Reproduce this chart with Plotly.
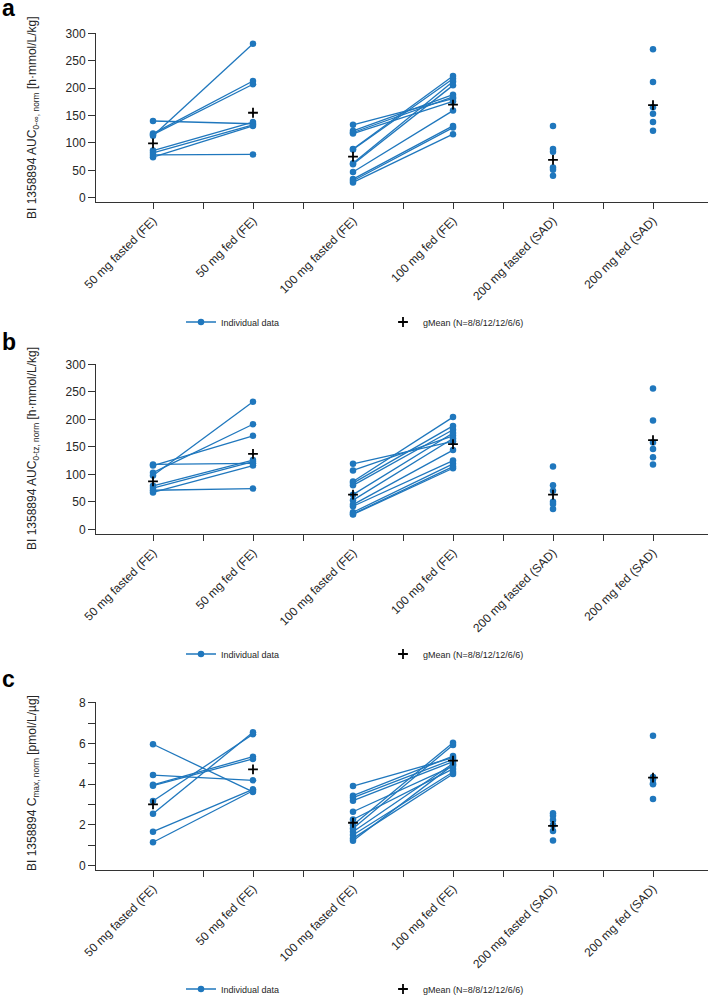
import plotly.graph_objects as go

categories = ["50 mg fasted (FE)", "50 mg fed (FE)", "100 mg fasted (FE)",
              "100 mg fed (FE)", "200 mg fasted (SAD)", "200 mg fed (SAD)"]

# Panel a: AUC0-inf, norm
a_50_fasted = [140, 117, 115, 113, 86, 82, 74, 78]
a_50_fed = [135, 213, 207, 281, 138, 133, 131, 79]
a_100_fasted = [133, 122, 119, 117, 89, 88, 63, 61, 47, 34, 31, 28]
a_100_fed = [181, 188, 184, 176, 222, 217, 212, 205, 159, 131, 128, 116]
a_200_fasted = [131, 89, 84, 55, 51, 40]
a_200_fed = [271, 211, 165, 153, 138, 122]
a_gmean = [99, 155, 75, 170, 69, 169]

# Panel b: AUC0-tz, norm
b_50_fasted = [118, 116, 103, 98, 79, 75, 71, 67]
b_50_fed = [120, 170, 191, 232, 126, 123, 74, 116]
b_100_fasted = [119, 107, 87, 84, 80, 63, 53, 45, 42, 31, 28, 27]
b_100_fed = [160, 170, 204, 188, 181, 175, 165, 144, 125, 119, 114, 111]
b_200_fasted = [114, 80, 70, 50, 46, 37]
b_200_fed = [256, 198, 158, 146, 131, 118]
b_gmean = [87, 137, 63, 155, 63, 162]

# Panel c: Cmax, norm
c_50_fasted = [5.96, 4.45, 3.97, 3.93, 3.18, 2.55, 1.67, 1.15]
c_50_fed = [3.62, 4.19, 5.35, 5.24, 6.45, 6.55, 3.75, 3.68]
c_100_fasted = [3.91, 3.44, 3.34, 3.19, 2.65, 2.27, 2.00, 1.83, 1.67, 1.51, 1.34, 1.23]
c_100_fed = [5.30, 5.38, 5.22, 5.11, 4.89, 4.75, 6.04, 5.92, 5.02, 4.60, 4.50, 4.95]
c_200_fasted = [2.57, 2.45, 2.24, 2.00, 1.70, 1.24]
c_200_fed = [6.38, 4.35, 4.24, 4.04, 4.00, 3.27]
c_gmean = [3.01, 4.73, 2.11, 5.16, 1.96, 4.32]

y_titles = ["BI 1358894 AUC<sub>0-∞, norm</sub> [h·mmol/L/kg]",
            "BI 1358894 AUC<sub>0-tz, norm</sub> [h·mmol/L/kg]",
            "BI 1358894 C<sub>max, norm</sub> [pmol/L/µg]"]
panel_letters = ["a", "b", "c"]
legend_names = ["Individual data", "gMean (N=8/8/12/12/6/6)"]

BLUE = "#1f77bd"
AX = "#333333"
TXT = "#262626"
FONT = "Liberation Sans, Arial, sans-serif"
W, H = 708, 995

pos = {c: i for i, c in enumerate(categories)}


def build_xy(f50, d50, f100, d100, f200, d200):
    xs, ys = [], []
    for (ca, cb, va, vb) in [(categories[0], categories[1], f50, d50),
                             (categories[2], categories[3], f100, d100)]:
        for u, v in zip(va, vb):
            xs += [pos[ca], pos[cb], None]
            ys += [u, v, None]
    for c, vals in [(categories[4], f200), (categories[5], d200)]:
        for v in vals:
            xs += [pos[c], None]
            ys += [v, None]
    return xs, ys


panels = [
    (build_xy(a_50_fasted, a_50_fed, a_100_fasted, a_100_fed, a_200_fasted, a_200_fed), a_gmean),
    (build_xy(b_50_fasted, b_50_fed, b_100_fasted, b_100_fed, b_200_fasted, b_200_fed), b_gmean),
    (build_xy(c_50_fasted, c_50_fed, c_100_fasted, c_100_fed, c_200_fasted, c_200_fed), c_gmean),
]

# layout geometry (pixels)
plot_top = [32.75, 363.75, 702.1]
plot_bot = [202, 534, 870]
y_ranges = [[-7.8, 301], [-8.5, 301], [-0.21, 8.03]]
title_cy = [118, 449, 783]
letter_bottom = [23, 357, 694]
legend_cy = [322, 654, 989]
x_left = 96

fig = go.Figure()
for i, ((xs, ys), gm) in enumerate(panels):
    sfx = "" if i == 0 else str(i + 1)
    leg = "legend" if i == 0 else "legend" + str(i + 1)
    fig.add_trace(go.Scatter(
        x=xs, y=ys, mode="lines+markers", name=legend_names[0],
        line=dict(color=BLUE, width=1.3), marker=dict(color=BLUE, size=6.5),
        xaxis="x" + sfx, yaxis="y" + sfx, legend=leg, connectgaps=False))
    fig.add_trace(go.Scatter(
        x=[pos[c] for c in categories], y=gm, mode="markers", name=legend_names[1],
        marker=dict(symbol="cross-thin", size=7, line=dict(color="black", width=1.8), color="black"),
        xaxis="x" + sfx, yaxis="y" + sfx, legend=leg))

layout = dict(width=W, height=H, margin=dict(l=0, r=0, t=0, b=0, autoexpand=False),
              paper_bgcolor="white", plot_bgcolor="white",
              font=dict(family=FONT, color=TXT, size=12), showlegend=True)

tickvals = list(range(len(categories)))
minor_vals = [k + 0.5 for k in range(len(categories) - 1)]

annotations = []
for i in range(3):
    sfx = "" if i == 0 else str(i + 1)
    dom_y = [1 - plot_bot[i] / H, 1 - plot_top[i] / H]
    layout["xaxis" + sfx] = dict(
        domain=[x_left / W, 1], range=[-0.57, 5.55], anchor="y" + sfx, automargin=False,
        showline=True, linecolor=AX, linewidth=1, ticks="outside", ticklen=6,
        tickcolor=AX, tickwidth=1, tickvals=tickvals, ticktext=categories,
        minor=dict(tickvals=minor_vals, ticks="outside", ticklen=6, tickcolor=AX,
                   tickwidth=1, showgrid=False),
        tickangle=-45, tickfont=dict(size=12, color=TXT), showgrid=False, zeroline=False)
    yax = dict(
        domain=dom_y, range=y_ranges[i], anchor="x" + sfx, automargin=False,
        showline=True, linecolor=AX, linewidth=1, ticks="outside", ticklen=7,
        tickcolor=AX, tickwidth=1, tickfont=dict(size=12, color=TXT),
        showgrid=False, zeroline=False)
    if i < 2:
        yax.update(tickvals=[0, 50, 100, 150, 200, 250, 300])
    else:
        yax.update(tickvals=[0, 2, 4, 6, 8],
                   minor=dict(tickvals=[1, 3, 5, 7], ticks="outside", ticklen=7,
                              tickcolor=AX, tickwidth=1, showgrid=False))
    layout["yaxis" + sfx] = yax

    leg = "legend" if i == 0 else "legend" + str(i + 1)
    layout[leg] = dict(orientation="h", x=(221 - 40) / W, xanchor="left",
                       y=1 - legend_cy[i] / H, yanchor="middle",
                       font=dict(size=9, color=TXT), entrywidth=157,
                       bgcolor="rgba(0,0,0,0)", itemwidth=30)

    annotations.append(dict(text=y_titles[i], textangle=-90, xref="paper", yref="paper",
                            x=33 / W, y=1 - title_cy[i] / H, xanchor="center", yanchor="middle",
                            showarrow=False, font=dict(size=12, color=TXT)))
    annotations.append(dict(text="<b>" + panel_letters[i] + "</b>", xref="paper", yref="paper",
                            x=0, y=1 - letter_bottom[i] / H, xanchor="left", yanchor="bottom",
                            showarrow=False, font=dict(size=23, color="black")))

layout["annotations"] = annotations
fig.update_layout(**layout)
fig.write_html("out.html", config={"displayModeBar": False},
               post_script="document.body.style.margin='0';document.body.style.overflow='hidden';")
